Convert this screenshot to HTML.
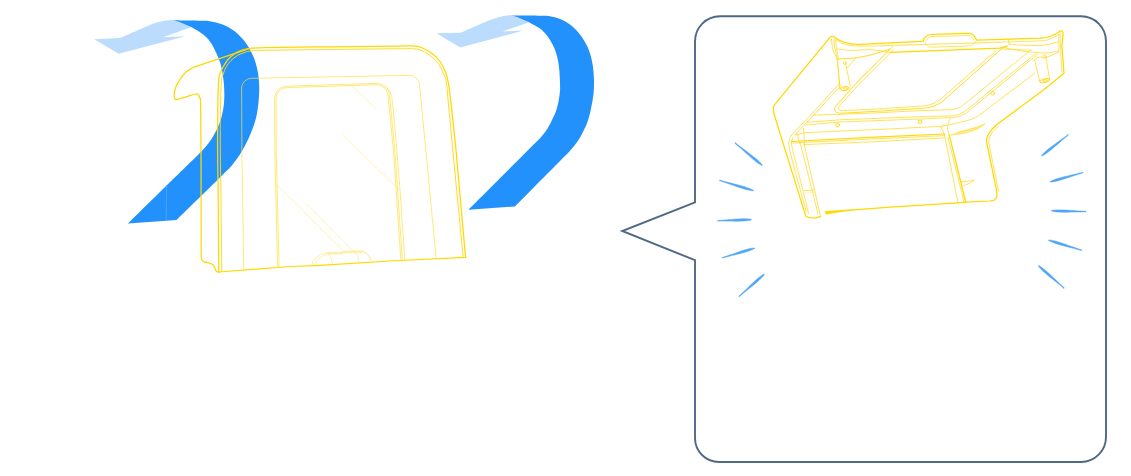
<!DOCTYPE html>
<html lang="en">
<head>
<meta charset="utf-8">
<title>Illustration</title>
<style>
html,body{margin:0;padding:0;background:#fff;}
body{width:1131px;height:476px;overflow:hidden;}
svg{display:block;}
.y{fill:none;stroke:#ffd800;stroke-width:1.25;stroke-linecap:round;stroke-linejoin:round}
.y2{fill:none;stroke:#ffdb2e;stroke-width:.8;stroke-linecap:round;stroke-linejoin:round}
.y3{fill:none;stroke:#ffe878;stroke-width:.55;stroke-linecap:round}
.b{fill:#2391fb}
.lb{fill:#bcdcfd}
.sp{fill:#4fa5f8;stroke:#4fa5f8;stroke-width:.5;stroke-linejoin:round}
.y4{fill:none;stroke:#ffe468;stroke-width:.6;stroke-linecap:round;stroke-linejoin:round}
.y5{fill:#ffe98a;stroke:#ffdb2e;stroke-width:.6;stroke-linejoin:round}
.y6{fill:none;stroke:#ffd916;stroke-width:.95;stroke-linecap:round;stroke-linejoin:round}
.y7{fill:none;stroke:#ffde3f;stroke-width:.7;stroke-linecap:round;stroke-linejoin:round}
.bub{fill:none;stroke:#4f6985;stroke-width:1.9;stroke-linejoin:miter}
</style>
</head>
<body>
<svg width="1131" height="476" viewBox="0 0 1131 476">
<path class="lb" d="M94.1,39.2 L119.9,38.1 C122.4,37 130,33.7 135,31.5 C140,29.3 145.9,26.5 150,24.9 C154.1,23.3 156.4,22.6 159.5,21.8 C162.6,21 166.8,20.5 168.3,20.2 L173.3,20 L186,23 L191.4,27 L163.2,37.2 L185.3,36.3 L118.7,53.8 Z"/>
<path class="b" d="M173.3,20.2 C176.1,20.3 183.7,20.4 190,20.6 C196.3,20.8 205.2,20.6 211,21.4 C216.8,22.2 220.8,23.6 225,25.5 C229.2,27.4 232.8,29.7 236.4,32.8 C240,35.9 243.6,39.8 246.5,44 C249.4,48.2 252.1,53.2 254,58 C255.9,62.8 257.1,68 258,73 C258.9,78 259.1,83.2 259.2,88 C259.3,92.8 259,97 258.5,102 C258,107 257.4,112.5 256,118 C254.6,123.5 252.3,129.8 250,135.3 C247.7,140.8 244.9,146.1 242,151 C239.1,155.9 235.7,160.6 232.4,164.7 C229.1,168.8 231.3,166.3 222,175.5 C212.7,184.7 184.1,212.6 176.5,220 L127.9,223.5 C137.6,214 174.5,177.8 186,166.5 C197.5,155.2 193.3,159.7 197,155.9 C200.7,152.1 205,147.9 208.3,143.5 C211.6,139.1 214.5,134.2 216.8,129.4 C219.1,124.7 220.8,119.9 222,115 C223.2,110.1 223.9,105.3 224.2,100 C224.5,94.7 224.3,88.7 223.8,83 C223.3,77.3 222.2,70.5 221,65.6 C219.8,60.7 218.2,57.3 216.5,53.5 C214.8,49.7 212.8,45.8 211,43 C209.2,40.2 207.8,38.8 206,37 C204.2,35.2 202.5,33.9 200,32.2 C197.5,30.6 193.4,28.4 191,27.1 C188.6,25.8 187.2,25.4 185.3,24.6 C183.4,23.8 181.6,22.8 179.6,22.1 C177.6,21.4 174.4,20.5 173.3,20.2 Z"/>
<path d="M166.6,185 L166.2,220.5" stroke="#62affb" stroke-width=".6" fill="none"/>
<path class="lb" d="M436.4,33.3 L460.4,32.8 C462.8,31.7 470.1,28.6 475,26.5 C479.9,24.4 485.9,21.7 490,20.1 C494.1,18.5 496.7,17.7 499.5,16.9 C502.3,16.1 505.8,15.7 507,15.4 L511.4,15.2 L524,17.7 L529.5,22.2 L502.6,31.4 L523.4,30.5 L460.2,47.6 Z"/>
<path class="b" d="M511.4,15.4 C514.5,15.4 523.4,15.4 530,15.6 C536.6,15.8 545.4,15.6 551,16.4 C556.6,17.2 559.7,18.6 563.5,20.5 C567.3,22.4 570.6,24.8 573.8,27.7 C577,30.6 580,34.2 582.5,38 C585,41.8 587.3,45.9 589,50.4 C590.7,54.9 591.9,60 592.7,65 C593.5,70 593.9,75.9 594,80.7 C594.1,85.5 593.9,89.8 593.5,94 C593.1,98.2 592.2,102.2 591.5,106 C590.8,109.8 590,113.6 589,117 C588,120.4 587.4,122.7 585.6,126.5 C583.9,130.3 581.2,135.8 578.5,140 C575.8,144.2 572.5,148 569.4,151.5 C566.3,155 569.1,151.8 560,161 C550.9,170.2 522.5,198.9 515,206.5 L468.5,209.7 C478.8,199.4 518.1,160.1 530,148.2 C541.9,136.3 537.1,141.5 540,138.2 C542.9,134.9 545.3,131.9 547.5,128.5 C549.7,125.1 551.7,120.9 553.2,117.6 C554.8,114.3 555.9,111.4 556.8,108.5 C557.7,105.6 558.3,102.9 558.8,100 C559.3,97.1 559.8,93.8 560,91 C560.2,88.2 560.1,86.7 560,83.2 C559.9,79.7 559.7,74.2 559.3,70 C558.9,65.8 558.4,61.8 557.5,58 C556.6,54.2 555.5,50.9 554,47.5 C552.5,44.1 550.2,40.2 548.6,37.8 C547,35.3 545.9,34.3 544.5,32.8 C543.1,31.3 542.6,30.4 540,28.6 C537.4,26.9 532,23.8 529.1,22.3 C526.2,20.8 524.8,20.4 522.8,19.5 C520.8,18.6 519,17.6 517.1,16.9 C515.2,16.2 512.4,15.7 511.4,15.4 Z"/>
<path class="bub" d="M720,16.3 H1081 A25,25 0 0 1 1106,41.3 V437 A25,25 0 0 1 1081,462 H719 A24,24 0 0 1 695,438 V260.2 L622.2,231 L695,202.3 V41.3 A25,25 0 0 1 720,16.3 Z"/>
<path class="sp" d="M734.8,143.2 L736.7,144.8 L738.6,146.4 L740.5,148.1 L742.4,149.8 L744.3,151.5 L746.1,153.2 L748,154.8 L749.9,156.5 L751.8,158.2 L753.7,159.8 L755.7,161.4 L757.7,162.9 L759.8,164.3 L762,165.6 L762.4,165 L760.7,163.1 L758.9,161.3 L757.1,159.6 L755.2,158 L753.2,156.4 L751.2,154.9 L749.2,153.4 L747.2,151.8 L745.2,150.3 L743.2,148.8 L741.2,147.3 L739.2,145.8 L737.2,144.2 L735.2,142.6 Z"/>
<path class="sp" d="M719.5,180.7 L721.9,181.5 L724.3,182.3 L726.7,183.1 L729.1,183.9 L731.5,184.7 L733.8,185.6 L736.2,186.4 L738.6,187.2 L741,188 L743.4,188.8 L745.8,189.5 L748.3,190.1 L750.8,190.6 L753.3,190.9 L753.5,190.3 L751.2,189.2 L748.9,188.2 L746.5,187.4 L744.1,186.6 L741.7,185.9 L739.2,185.2 L736.8,184.6 L734.3,184 L731.9,183.3 L729.4,182.7 L727,182.1 L724.6,181.4 L722.1,180.8 L719.7,180.1 Z"/>
<path class="sp" d="M717.6,221.1 L720,221.1 L722.4,221.1 L724.8,221.1 L727.3,221.1 L729.7,221.1 L732.1,221.1 L734.5,221.2 L736.9,221.2 L739.3,221.2 L741.7,221.1 L744.1,221 L746.5,220.7 L748.9,220.4 L751.3,219.9 L751.3,219.3 L748.9,218.9 L746.5,218.8 L744,218.8 L741.6,218.8 L739.2,218.9 L736.8,219.1 L734.4,219.2 L732,219.4 L729.6,219.6 L727.2,219.8 L724.8,220 L722.4,220.2 L720,220.3 L717.6,220.5 Z"/>
<path class="sp" d="M722.4,258.1 L724.7,257.5 L727,256.8 L729.4,256.2 L731.7,255.6 L734,255.1 L736.4,254.5 L738.7,253.9 L741.1,253.3 L743.4,252.7 L745.7,252 L748,251.3 L750.3,250.5 L752.5,249.6 L754.7,248.5 L754.5,247.9 L752.1,248.2 L749.7,248.6 L747.4,249.2 L745,249.8 L742.7,250.5 L740.5,251.3 L738.2,252.1 L735.9,252.9 L733.6,253.7 L731.4,254.5 L729.1,255.2 L726.8,256 L724.5,256.8 L722.2,257.5 Z"/>
<path class="sp" d="M739.2,296.8 L741.1,295.2 L742.9,293.6 L744.8,292.1 L746.6,290.6 L748.5,289.1 L750.4,287.6 L752.3,286.1 L754.2,284.5 L756,283 L757.8,281.4 L759.6,279.8 L761.3,278.1 L763,276.4 L764.5,274.5 L764.1,273.9 L762,275.2 L760,276.7 L758.1,278.1 L756.3,279.7 L754.5,281.3 L752.8,283 L751,284.6 L749.3,286.3 L747.6,288 L745.8,289.7 L744.1,291.3 L742.3,293 L740.6,294.6 L738.8,296.2 Z"/>
<path class="sp" d="M1068.1,134.4 L1066.2,135.9 L1064.2,137.4 L1062.3,138.8 L1060.3,140.2 L1058.4,141.6 L1056.4,143 L1054.5,144.5 L1052.5,145.9 L1050.6,147.3 L1048.7,148.8 L1046.8,150.3 L1045,151.9 L1043.2,153.6 L1041.6,155.4 L1042,156 L1044.2,154.8 L1046.2,153.5 L1048.2,152.1 L1050.1,150.6 L1052,149.1 L1053.8,147.5 L1055.6,145.9 L1057.5,144.4 L1059.3,142.8 L1061.1,141.2 L1062.9,139.6 L1064.8,138 L1066.6,136.5 L1068.5,135 Z"/>
<path class="sp" d="M1082.9,172.2 L1080.6,172.8 L1078.2,173.4 L1075.9,174 L1073.5,174.6 L1071.1,175.1 L1068.8,175.7 L1066.4,176.2 L1064,176.8 L1061.7,177.4 L1059.3,178 L1057,178.7 L1054.7,179.5 L1052.4,180.4 L1050.2,181.5 L1050.4,182.1 L1052.8,181.9 L1055.2,181.4 L1057.6,180.9 L1060,180.2 L1062.3,179.6 L1064.6,178.8 L1066.9,178.1 L1069.2,177.3 L1071.5,176.5 L1073.8,175.8 L1076.1,175 L1078.4,174.3 L1080.8,173.5 L1083.1,172.8 Z"/>
<path class="sp" d="M1086,211.3 L1083.5,211.2 L1081.1,211 L1078.6,210.9 L1076.2,210.8 L1073.7,210.6 L1071.2,210.4 L1068.8,210.2 L1066.3,210.1 L1063.8,210 L1061.4,209.9 L1058.9,209.9 L1056.5,209.9 L1054,210.1 L1051.5,210.5 L1051.5,211.1 L1053.9,211.6 L1056.4,211.9 L1058.9,212.1 L1061.3,212.2 L1063.8,212.2 L1066.3,212.2 L1068.7,212.2 L1071.2,212.1 L1073.7,212 L1076.1,212 L1078.6,211.9 L1081.1,211.9 L1083.5,211.9 L1086,211.9 Z"/>
<path class="sp" d="M1081.9,250 L1079.5,249.2 L1077.2,248.4 L1074.8,247.6 L1072.5,246.8 L1070.2,246 L1067.8,245.2 L1065.5,244.3 L1063.1,243.5 L1060.8,242.7 L1058.4,242 L1056,241.3 L1053.6,240.7 L1051.2,240.2 L1048.7,239.9 L1048.5,240.5 L1050.8,241.6 L1053.1,242.6 L1055.4,243.4 L1057.8,244.2 L1060.1,244.9 L1062.5,245.5 L1064.9,246.2 L1067.3,246.8 L1069.7,247.4 L1072.1,248 L1074.5,248.6 L1076.9,249.3 L1079.3,249.9 L1081.7,250.6 Z"/>
<path class="sp" d="M1064.3,287.8 L1062.5,286.2 L1060.7,284.6 L1059,282.9 L1057.2,281.3 L1055.4,279.6 L1053.7,277.9 L1051.9,276.2 L1050.2,274.6 L1048.4,272.9 L1046.6,271.3 L1044.7,269.7 L1042.8,268.2 L1040.8,266.8 L1038.7,265.5 L1038.3,266.1 L1039.8,268 L1041.5,269.7 L1043.3,271.4 L1045.1,273 L1046.9,274.6 L1048.8,276.2 L1050.7,277.7 L1052.6,279.2 L1054.5,280.7 L1056.4,282.2 L1058.3,283.7 L1060.2,285.2 L1062,286.8 L1063.9,288.4 Z"/>
<g id="coverL">
<path class="y" d="M250,48.4 L193.3,67.3 C192,68.2 187.8,70.3 185.5,72.5 C183.2,74.7 180.9,78.1 179.2,80.7 C177.5,83.3 176.3,85.7 175.5,88 C174.7,90.3 174.3,92.7 174.2,94.5 C174.1,96.3 174.4,98 174.8,98.8 C175.2,99.6 174.9,99.9 176.8,99.6 C178.7,99.3 182.8,97.7 186,96.8 C189.2,95.9 193.6,94.3 195.7,94 C197.8,93.7 197.9,94.2 198.6,95 C199.3,95.8 199.6,97 199.9,98.5 C200.2,100 200.4,95.4 200.6,104 C200.8,112.6 200.9,124.7 201,150 C201.1,175.3 201.2,238.2 201.2,255.9 C201.3,256.6 201.5,259 202,260 C202.5,261 202.8,261.3 204,261.8 C205.2,262.3 207.5,262.5 209,263 C210.5,263.5 212.1,264 213,264.7 C213.9,265.4 214.1,266.3 214.5,267 C214.9,267.7 215,268.2 215.3,269 C215.6,269.8 215.9,271 216.5,271.5 C217.1,272 218.4,271.9 218.8,272"/>
<path class="y" d="M218.8,272 C218.7,260 218.4,220.3 218.2,200 C218,179.7 217.7,165 217.6,150 C217.5,135 217.7,121.3 217.8,110 C218,98.7 218.1,88.2 218.5,82.2 C218.9,76.2 219.2,76.6 220,74 C220.8,71.4 222,68.9 223.3,66.5 C224.6,64.1 226.2,61.6 228,59.5 C229.8,57.4 232.1,55.4 234.3,53.9 C236.6,52.4 238.9,51.3 241.5,50.4 C244.1,49.5 246.1,48.9 250,48.4 C253.9,47.9 253.3,47.9 265,47.6 C276.7,47.4 302.5,47.1 320,46.9 C337.5,46.7 356.7,46.4 370,46.3 C383.3,46.2 392.9,46.2 400,46.1 C407.1,46 409,45.7 412.6,45.9 C416.2,46.1 418.2,46.3 421.4,47.5 C424.5,48.7 428.3,50.7 431.5,53.1 C434.7,55.5 438,58.6 440.4,62 C442.8,65.4 444.6,69.5 446,73.3 C447.4,77.1 447.9,80.6 448.6,84.7 C449.3,88.8 449.2,87.1 450.4,98 C451.6,108.9 454.3,132.3 456,150 C457.7,167.7 459.2,186.1 460.8,204 C462.4,221.9 464.8,248.5 465.6,257.4"/>
<path class="y6" d="M221.8,271.5 C221.7,259.6 221.2,220.2 221,200 C220.8,179.8 220.4,165 220.3,150 C220.2,135 220.2,121.3 220.4,110 C220.6,98.7 221,88.1 221.4,82.2 C221.8,76.3 222.2,77.1 223,74.5 C223.8,71.9 225.1,68.8 226.4,66.5 C227.7,64.2 229.2,62.3 231,60.5 C232.8,58.7 235.2,56.8 237.4,55.5 C239.6,54.2 241.6,53.4 244,52.6 C246.4,51.8 248.1,51.3 251.6,50.9 C255.1,50.5 253.6,50.5 265,50.3 C276.4,50.1 302.5,49.8 320,49.6 C337.5,49.4 356.7,49.1 370,49 C383.3,48.9 392.9,48.8 400,48.8 C407.1,48.8 409.1,48.5 412.6,48.7 C416.1,48.9 417.9,49 420.8,50.2 C423.8,51.4 427.4,53.4 430.3,55.7 C433.2,58 436.2,60.8 438.5,63.9 C440.8,67 442.7,71.1 444.1,74.6 C445.5,78.1 446.1,80.8 446.7,84.7 C447.3,88.6 446.9,87.1 447.9,98 C448.9,108.9 451.1,132.3 452.8,150 C454.5,167.7 456.3,186.1 458,204 C459.7,221.9 462.3,248.7 463.2,257.6"/>
<path class="y" d="M218.8,272 L290,266.5 L320,265.3 L390,261 L465.6,257.4"/>
<path class="y7" d="M243.8,269.5 L241.9,151 C241.9,150.4 241.9,149.6 241.9,149 L241.6,88.5 C241.5,83 246,78.4 251.5,78.3 L409.1,75.4 C414.3,75.3 419,79.5 419.5,84.7 L425.7,149 C425.8,149.6 425.8,150.4 425.9,151 L436.2,258.8"/>
<path class="y7" d="M277.6,267.6 L274.8,151 C274.8,150.4 274.8,149.6 274.8,149 L274.6,98.6 C274.6,92 280,86.4 286.6,86.2 L376.3,83.4 C382.9,83.2 388.8,88.4 389.5,94.9 L394.7,149 C394.8,149.6 394.8,150.4 394.9,151 L402.4,260.8"/>
<path class="y7" d="M279.1,267.5 L276.2,151 C276.2,150.4 276.2,149.6 276.2,149 L276,98.7 C276,92.8 280.9,87.7 286.8,87.6 L376.2,84.7 C382.1,84.6 387.5,89.2 388,95.1 L393.3,149 C393.4,149.6 393.4,150.4 393.5,151 L400.9,260.9"/>
<path class="y7" d="M386,87 C386.6,87.7 388.7,89.5 389.6,91 C390.5,92.5 390.7,93.8 391.2,96 C391.7,98.2 391.7,95 392.6,104 C393.5,113 395.4,133.3 396.8,150 C398.2,166.7 399.7,185.6 401,204 C402.3,222.4 404.2,251.2 404.8,260.6"/>
<path class="y3" d="M352.7,86.7 L376,108.6"/>
<path class="y3" d="M342,133.8 L398.8,189.7"/>
<path class="y3" d="M277.6,185.3 L342,249.4"/>
<path class="y3" d="M307,204.4 L353.6,251.5"/>
<path class="y4" d="M312,264.9 C312.2,264.2 312.7,261.9 313.5,260.5 C314.3,259.1 315.5,257.9 317,256.8 C318.5,255.7 320.8,254.5 322.6,253.8 C324.4,253.1 326.9,252.6 327.8,252.4 L362.5,251.5 C363.2,251.8 365.4,252.6 366.5,253.5 C367.6,254.4 368.6,255.6 369.3,256.8 C370,258 370.6,260.1 370.9,260.8"/>
<path class="y4" d="M315.2,264.8 C315.5,264.2 316,262.2 316.8,261 C317.6,259.8 318.8,258.7 320,257.8 C321.2,256.9 322.7,256.1 324,255.5 C325.3,254.9 327.2,254.4 327.8,254.2 L343,253.7"/>
<path class="y4" d="M327.8,253.4 L362,252.5"/>
<path class="y4" d="M343.5,251.3 C346.4,251.2 358.1,250.9 361,250.8"/>
<path class="y3" d="M361,251 C361.8,251.3 364.2,252.1 365.5,252.8 C366.8,253.6 367.6,254.5 368.5,255.5 C369.4,256.5 370.2,258.4 370.6,259"/>
<path class="y4" d="M328.3,253.6 C328.8,254.2 330.3,255.7 331,257.5 C331.7,259.3 332.2,263.2 332.5,264.3"/>
<path class="y4" d="M354.6,252 C355.1,252.7 356.8,254.2 357.5,256 C358.2,257.8 358.6,261.7 358.8,262.8"/>
</g>
<g id="deviceR">
<path class="y" d="M805.3,214.6 L777.4,125 L773.6,112.5 C773.6,111.7 773.1,109 773.4,107.5 C773.7,106 775,104.4 775.3,103.8 L830.6,36.6 C831,36.5 832.1,36.1 833,36.3 C833.9,36.5 835,37.4 836,38 C837,38.6 837.2,39.3 839.3,40.2 C841.4,41.1 845.6,42.7 848.7,43.4 C851.9,44.1 854.7,44.4 858.2,44.5 C861.8,44.6 864.7,44.2 870,43.9 C875.3,43.6 881.2,43.3 890,42.9 C898.8,42.5 917.5,41.6 923,41.4 C923.3,40.8 923.8,38.6 925,37.5 C926.2,36.4 926.4,35.1 930.4,34.5 C934.4,33.9 942.7,34.1 949,33.9 C955.3,33.7 964.1,33.2 968.2,33.4 C972.3,33.6 972.1,34.1 973.5,35.2 C974.9,36.3 976.1,39.3 976.6,40.1 L1010,39.1 L1040,38.2 C1041.3,38 1045.5,37.7 1048,37 C1050.5,36.3 1052.9,35.2 1055,34.2 C1057.1,33.2 1059.5,31.3 1060.8,30.9 C1062.1,30.5 1062.4,31.3 1062.8,32 C1063.2,32.7 1063,34.5 1063,35 L1061.9,46 L1064,73.3 L1043.4,90 L996.5,124.8 C995.5,125.8 992,129 990.5,131 C989,133 987.9,135.2 987.2,137 C986.6,138.8 986.7,141.2 986.6,142 L996.7,190.8 C996.7,191.8 997.2,195 996.8,196.5 C996.4,198 995.6,199.2 994.5,200 C993.4,200.8 990.8,200.8 990,201 L965.7,202.2"/>
<path class="y" d="M805.3,214.6 C805.6,215 805.9,216.5 807,217 C808.1,217.5 810.3,217.7 812,217.8 C813.7,217.9 815.6,217.8 817,217.6 C818.4,217.4 820,216.8 820.6,216.6"/>
<path class="y" d="M825.5,212.2 L890,207.2 L958,202.8 L965.7,202.2"/>
<path class="y" d="M825.5,211.6 L825.8,214.2 L853,209.8 Z" style="fill:#ffd800;stroke-width:.5"/>
<path class="y2" d="M834.6,38.7 C835.6,39.4 838,41.4 840.9,42.6 C843.8,43.8 847,45.1 851.9,45.7 C856.8,46.3 863.6,46 870,46 C876.4,46 868.3,46 890,45.4 C911.7,44.8 975,43 1000,42.2 C1025,41.4 1031.7,41.3 1040,40.8 C1048.3,40.3 1046.9,40 1050,39 C1053.1,38 1057.1,35.2 1058.5,34.5"/>
<path class="y2" d="M925.2,42.8 C925.5,43.2 926.1,44.8 927,45.5 C927.9,46.2 926.7,46.8 930.4,47 C934.1,47.2 942.7,46.8 949,46.6 C955.3,46.4 964.1,46.4 968,46 C971.9,45.6 971.2,45.2 972.5,44.5 C973.8,43.8 975.1,42 975.6,41.5"/>
<path class="y2" d="M926,40.5 C926.4,40 927.5,38.4 928.5,37.8 C929.5,37.1 928.6,36.9 932,36.6 C935.4,36.3 943.2,36.3 949,36.1 C954.8,35.9 963.2,35.5 967,35.6 C970.8,35.8 970.3,36.3 971.5,37 C972.7,37.7 973.6,39.5 974,40"/>
<path class="y2" d="M1058.5,34.5 C1058.5,36.2 1058.8,42 1058.8,45 C1058.8,48 1058.7,51.1 1058.7,52.3"/>
<path class="y2" d="M1060.3,33 C1060.3,35.2 1060.1,39.5 1060.4,46 C1060.7,52.5 1061.7,67.7 1062,72"/>
<path class="y2" d="M831.4,38.7 C831.7,40.7 832.1,47 833,50.5 C833.9,54 835.9,54.4 836.9,59.9 C837.9,65.4 838.8,78.7 839.3,83.5 C839.8,88.3 839.9,88.1 840,89"/>
<path class="y2" d="M833.8,39.5 C834,41.2 834.6,46.8 835.3,50 C835.9,53.2 837.3,57.5 837.7,59"/>
<path class="y2" d="M835.4,39.4 C835.6,41 836.1,45.9 836.6,49 C837.1,52.1 838,56.8 838.3,58.3"/>
<path class="y2" d="M836.9,48.9 C839.4,49.2 846.4,50.4 851.9,50.5 C857.4,50.6 863.6,49.4 870,49.7 C876.4,50 887.1,51.9 890.5,52.3"/>
<path class="y6" d="M837.7,59.1 L855.8,58 L870,55.2 L890,49.2"/>
<path class="y2" d="M855.8,58 L847.2,67.8"/>
<path class="y2" d="M837.7,59.9 L840,89"/>
<path class="y2" d="M845.6,63.9 L850.3,85.9"/>
<circle class="y2" cx="844.8" cy="63" r="1.5"/>
<ellipse class="y6" cx="845" cy="88.5" rx="4.3" ry="1.8" transform="rotate(-8 845 88.5)"/>
<ellipse class="y2" cx="845.3" cy="88.5" rx="2" ry=".8" transform="rotate(-8 845 88.5)"/>
<path class="y" d="M890.5,52.3 L1000,48.1 L1007,46"/>
<path class="y3" d="M880,46 L1000,42.2"/>
<path class="y2" d="M889,50.6 L893,46.2"/>
<path class="y6" d="M890,49.2 L854.6,85 L835.3,106.6 C835.2,107.1 834.5,108.6 834.6,109.5 C834.7,110.4 834.9,111.2 835.7,111.8 C836.6,112.4 839,113 839.7,113.3 L880,111.1 L926.2,108 C927.5,107.7 931.5,106.9 934,106 C936.5,105.1 939.8,103.2 941,102.7 L1000,50.2 L1007,46"/>
<path class="y2" d="M893.5,50 L858,85.5 L838.6,106.7 C838.5,107 838.2,108.1 838.3,108.6 C838.4,109.1 838.7,109.6 839.2,109.9 C839.7,110.2 841.1,110.6 841.5,110.7 L880,108.8 L925,105.8 C926.2,105.5 930.2,104.6 932.5,103.8 C934.8,103 937.8,101.3 938.8,100.8 L996,50.8"/>
<path class="y2" d="M1030.5,50.2 L962.5,105.7 C961.7,106.1 959.3,107.6 957.5,108.3 C955.7,109 952.5,109.5 951.5,109.8 L920,110.6 L880,112.7 L840,114.3 L813,115.3"/>
<path class="y2" d="M1035.8,53.4 L964.1,112 C963.1,112.4 960.1,113.9 958,114.6 C955.9,115.2 952.6,115.7 951.5,115.9 L920,116.7 L840,119.8 L807,122.3"/>
<path class="y2" d="M1038,54 L965.5,113.6 C964.5,114 961.6,115.6 959.5,116.3 C957.4,117 954.1,117.3 953,117.5 L920,119 L840,122 L806,125"/>
<path class="y2" d="M1034.6,73.3 L978.3,115.9 C977.3,116.4 974.4,117.9 972.5,118.7 C970.6,119.5 969.6,119.9 967.2,120.6 C964.8,121.3 960.9,122.1 958,122.8 C955.1,123.5 951.3,124.3 950,124.6 L940.5,126.4 L890,128.9 L805.3,132.7"/>
<path class="y2" d="M1058.7,52.3 L1046,57.6"/>
<path class="y2" d="M1003.7,47.5 C1005.6,47.9 1011.1,49.1 1015,49.8 C1018.9,50.5 1022,51.1 1026.9,51.6 C1031.8,52.1 1040.4,52.9 1044.6,53 C1048.8,53.1 1049.7,52.5 1052,52.2 C1054.3,51.9 1057.2,51.2 1058.3,51"/>
<path class="y2" d="M1009.1,44.1 C1011.2,44.3 1017.5,45 1022,45.2 C1026.5,45.4 1032.1,45.6 1036.4,45.5 C1040.7,45.4 1044.3,45.1 1048,44.5 C1051.7,43.9 1056.6,42.5 1058.3,42.1"/>
<path class="y2" d="M1008.5,39.3 L1009.1,44.1"/>
<path class="y2" d="M1004,49.2 L1031.4,50.2"/>
<path class="y2" d="M1034.6,59.7 L1039.8,81.7"/>
<path class="y2" d="M1046,57.6 L1049.6,79.6"/>
<path class="y2" d="M1034.6,59.7 C1035.3,59.3 1037.1,57.6 1039,57.2 C1040.9,56.9 1044.8,57.5 1046,57.6"/>
<ellipse class="y6" cx="1044.6" cy="80.7" rx="4.9" ry="1.8" transform="rotate(-12 1044.6 80.7)"/>
<ellipse class="y2" cx="1044.8" cy="80.7" rx="2.5" ry=".9" transform="rotate(-12 1044.8 80.7)"/>
<circle class="y2" cx="1044.5" cy="56.5" r="1.6"/>
<circle class="y6" cx="837.6" cy="125.2" r="1.8"/>
<circle class="y6" cx="920" cy="121.8" r="1.8"/>
<circle class="y6" cx="992.8" cy="93.3" r="1.8"/>
<path class="y2" d="M839.3,83.5 L815.4,110 L791.4,135.2"/>
<path class="y2" d="M841.5,84.7 L818,110.5 L795,135"/>
<path class="y3" d="M870,66.2 L837.7,105"/>
<path class="y2" d="M797.3,133.9 L799.7,143.3"/>
<path class="y2" d="M803.6,128.3 L804.4,142.5"/>
<path class="y2" d="M791.4,135.2 C791.1,135.8 790,137.4 789.6,138.5 C789.2,139.6 788.9,140.3 788.8,141.5 C788.7,142.7 788.3,142.6 788.9,145.7 C789.5,148.8 790.4,153.4 792.1,160 C793.8,166.6 796.5,176.3 798.9,185 C801.3,193.7 805.1,207.5 806.3,212"/>
<path class="y2" d="M793,137.5 C792.8,138.1 792,139.6 791.8,141 C791.6,142.4 791.2,142.8 791.8,146 C792.4,149.2 793.5,153.3 795.2,160 C796.9,166.7 799.6,177.1 801.8,186 C804,194.9 807.5,208.9 808.6,213.5"/>
<path class="y2" d="M800.2,142.8 L817.9,213.4"/>
<path class="y2" d="M804,143.5 L820.6,216.6"/>
<path class="y2" d="M804,190.7 L814,190"/>
<path class="y3" d="M804.6,193 L814.6,192.3"/>
<path class="y" d="M791.4,141.5 L880,136.8 L944.3,134"/>
<path class="y2" d="M792,143 L880,138.6 L944.6,135.6"/>
<path class="y2" d="M804,144.6 L880,141.5 L944.3,137.9"/>
<path class="y2" d="M795,135 L805.3,132.7"/>
<path class="y2" d="M950,119 C949.7,119.8 948.4,122.3 948,124 C947.6,125.7 947.4,127.4 947.6,129.3 C947.8,131.2 949,134.2 949.3,135.2"/>
<path class="y2" d="M943.6,124.6 C943.3,124.9 942.4,125.9 942,126.4 C941.6,126.9 941.4,127.5 941.3,127.7"/>
<path class="y5" d="M948.6,135.3 C950.5,135.1 956.3,134.7 960,134 C963.7,133.3 967.8,132.3 971,131.3 C974.2,130.3 977.1,129.3 979.5,128 C981.9,126.7 984.2,124.3 985.2,123.6 C984,124.1 980.9,125.6 978,126.6 C975.1,127.6 971.5,128.7 968,129.6 C964.5,130.5 958.8,131.8 957,132.2"/>
<path class="y2" d="M944.3,134 L958,202.8"/>
<path class="y2" d="M948,137.5 L964.2,202.3"/>
<path class="y" d="M949.3,135.2 L965.7,202.2"/>
<path class="y2" d="M940.5,126.6 L944.3,134"/>
<path class="y2" d="M960.7,181.8 C961.9,181.7 965.7,181.5 968,181.2 C970.3,180.9 973.4,180.2 974.5,180 C973.6,180.6 970.9,182.6 969,183.5 C967.1,184.4 964,185.2 963,185.6"/>
<path class="y2" d="M998.5,126 C997.5,127 994,130 992.5,132 C991,134 989.9,136.2 989.3,138 C988.7,139.8 988.9,142.2 988.8,143 L998.4,190.5"/>
</g>
</svg>
</body>
</html>
